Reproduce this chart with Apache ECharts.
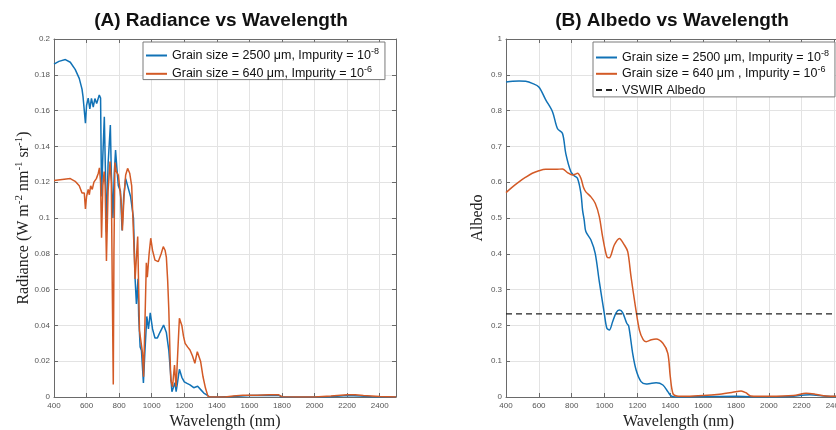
<!DOCTYPE html>
<html>
<head>
<meta charset="utf-8">
<script src="https://cdn.jsdelivr.net/npm/echarts@6/dist/echarts.min.js"></script>
</head>
<body style="margin:0;background:#fff">
<div id="chart" style="width:836px;height:430px"></div>
<script>
// panel A: radiance [wavelength nm, W m-2 nm-1 sr-1]
var radBlue = [
  [400,0.186],[430,0.1875],[470,0.1885],[500,0.187],[530,0.183],[555,0.178],[572,0.172],
  [578,0.168],[584,0.169],[593,0.153],[600,0.163],[610,0.167],[620,0.161],[630,0.1668],
  [641,0.162],[651,0.1667],[662,0.164],[678,0.1687],[686,0.167],[692,0.112],[700,0.135],
  [709,0.1566],[716,0.125],[722,0.092],[732,0.130],[746,0.152],[752,0.125],[762,0.100],
  [770,0.125],[778,0.138],[786,0.128],[795,0.118],[808,0.115],[818,0.093],[828,0.112],
  [840,0.122],[852,0.121],[870,0.112],[888,0.100],[898,0.066],[906,0.052],[912,0.051],
  [916,0.066],[920,0.045],[929,0.028],[937,0.026],[949,0.0078],[958,0.025],[970,0.045],
  [980,0.038],[991,0.047],[1005,0.038],[1020,0.033],[1035,0.033],[1050,0.036],[1073,0.0402],
  [1090,0.036],[1105,0.026],[1114,0.0151],[1124,0.003],[1132,0.005],[1143,0.008],[1150,0.003],
  [1160,0.009],[1170,0.0155],[1185,0.011],[1200,0.0085],[1217,0.0076],[1235,0.0068],
  [1258,0.0052],[1270,0.0062],[1282,0.006],[1305,0.0037],[1320,0.0022],[1340,0.001],
  [1355,0],[1400,0],[1500,0.0003],[1600,0.0008],[1700,0.001],[1780,0.0009],[1800,0],
  [2000,0],[2100,0.0002],[2200,0.0008],[2280,0.0006],[2350,0.0001],[2500,0]
];
var radOrange = [
  [400,0.121],[450,0.1215],[500,0.122],[530,0.1205],[555,0.118],[572,0.114],[580,0.113],
  [586,0.114],[593,0.105],[600,0.112],[610,0.116],[617,0.113],[625,0.118],[635,0.116],
  [645,0.120],[660,0.122],[672,0.125],[679,0.128],[686,0.120],[692,0.089],[700,0.118],
  [708,0.126],[714,0.118],[722,0.076],[732,0.115],[744,0.1315],[752,0.120],[758,0.060],
  [764,0.007],[768,0.080],[774,0.131],[782,0.126],[795,0.124],[804,0.123],[812,0.110],
  [820,0.093],[830,0.112],[840,0.124],[852,0.1277],[865,0.125],[877,0.118],[888,0.0915],
  [898,0.066],[907,0.066],[914,0.0896],[920,0.060],[925,0.037],[935,0.038],[943,0.025],
  [950,0.0113],[958,0.040],[967,0.075],[973,0.067],[984,0.080],[994,0.0887],[1005,0.082],
  [1020,0.0765],[1040,0.0756],[1058,0.080],[1071,0.084],[1082,0.082],[1090,0.078],
  [1098,0.065],[1105,0.0486],[1112,0.025],[1117,0.0095],[1128,0.0057],[1134,0.012],
  [1140,0.0179],[1146,0.010],[1150,0.0057],[1160,0.025],[1170,0.044],[1176,0.0434],
  [1185,0.040],[1195,0.034],[1205,0.030],[1220,0.028],[1235,0.0263],[1250,0.023],
  [1265,0.0188],[1272,0.022],[1280,0.0253],[1290,0.025],[1300,0.020],[1315,0.0113],
  [1330,0.005],[1345,0.0005],[1360,0],[1450,0],[1500,0.0005],[1560,0.001],[1650,0.001],
  [1720,0.0013],[1780,0.0012],[1800,0.0002],[1900,0],[2000,0],[2100,0.0005],[2200,0.0012],
  [2250,0.0013],[2300,0.0008],[2400,0.0003],[2500,0]
];
// panel B: albedo
var albBlue = [
  [400,0.880],[440,0.882],[480,0.883],[520,0.882],[560,0.876],[600,0.866],[642,0.830],
  [683,0.797],[713,0.750],[744,0.736],[764,0.680],[795,0.629],[815,0.618],[835,0.611],
  [856,0.569],[866,0.522],[876,0.494],[886,0.462],[917,0.4386],[943,0.401],[968,0.322],
  [998,0.234],[1014,0.192],[1029,0.187],[1049,0.210],[1070,0.235],[1090,0.243],[1110,0.236],
  [1135,0.206],[1147,0.198],[1171,0.122],[1192,0.0754],[1222,0.043],[1253,0.0363],
  [1280,0.038],[1314,0.0395],[1355,0.0335],[1385,0.0149],[1405,0.003],[1430,0],
  [1600,0.001],[1800,0.002],[1900,0.001],[2100,0.001],[2250,0.006],[2350,0.002],[2500,0.001]
];
var albOrange = [
  [400,0.571],[440,0.587],[479,0.601],[520,0.614],[560,0.625],[600,0.632],[642,0.636],
  [703,0.636],[744,0.637],[774,0.627],[805,0.620],[820,0.622],[835,0.625],[856,0.611],
  [872,0.585],[886,0.573],[917,0.559],[943,0.541],[968,0.504],[988,0.448],[1014,0.392],
  [1029,0.389],[1059,0.4246],[1090,0.443],[1120,0.425],[1141,0.406],[1161,0.336],
  [1188,0.252],[1212,0.187],[1235,0.160],[1253,0.1546],[1285,0.160],[1314,0.162],
  [1355,0.150],[1385,0.122],[1400,0.0568],[1416,0.010],[1440,0.003],[1500,0.002],
  [1600,0.004],[1700,0.008],[1780,0.013],[1831,0.0168],[1860,0.012],[1890,0.003],
  [2000,0.002],[2150,0.004],[2227,0.0102],[2280,0.008],[2350,0.003],[2500,0.002]
];
var vswirAlbedo = 0.232;
var wlRange = [400, 2500];

var labels = {
  radBlue: '{t|Grain size = 2500 μm, Impurity = 10}{s|-8}',
  radOrange: '{t|Grain size = 640 μm, Impurity = 10}{s|-6}',
  albBlue: '{t|Grain size = 2500 μm, Impurity = 10}{s|-8}',
  albOrange: '{t|Grain size = 640 μm , Impurity = 10}{s|-6}',
  vswir: '{t|VSWIR Albedo}{s| }'
};

var BLUE = '#1172b6', ORANGE = '#d35a26';
var sans = 'Liberation Sans, Arial, sans-serif';
var serif = 'Liberation Serif, Times New Roman, serif';
var legendRich = {
  t: { fontSize: 12.5, fontFamily: sans, color: '#111', lineHeight: 17 },
  s: { fontSize: 9, fontFamily: sans, color: '#111', verticalAlign: 'top' }
};
function plain(v) { return String(Math.round(v * 1000) / 1000); }

function xAx(grid, pos) {
  var main = pos === 'bottom';
  return {
    type: 'value', gridIndex: grid, position: pos,
    min: wlRange[0], max: wlRange[1], interval: 200,
    name: main ? 'Wavelength (nm)' : '', nameLocation: 'middle', nameGap: 17,
    nameMoveOverlap: false,
    nameTextStyle: { fontFamily: serif, fontSize: 16, color: '#222' },
    axisLine: { show: true, onZero: false, lineStyle: { color: '#6a6a6a', width: 1 } },
    axisTick: { show: true, inside: true, length: 4, lineStyle: { color: '#6a6a6a' } },
    axisLabel: { show: main, showMaxLabel: false, margin: 5, fontSize: 8, fontFamily: sans,
      color: '#555', formatter: plain },
    splitLine: { show: main, lineStyle: { color: '#e3e3e3', width: 1 } }
  };
}
function yAx(grid, pos, max, step, name, gap) {
  var main = pos === 'left';
  return {
    type: 'value', gridIndex: grid, position: pos,
    min: 0, max: max, interval: step,
    name: main ? name : '', nameLocation: 'middle', nameGap: gap, nameRotate: 90,
    nameMoveOverlap: false,
    nameTextStyle: {
      fontFamily: serif, fontSize: 16, color: '#222',
      rich: {
        t: { fontFamily: serif, fontSize: 16, color: '#222', lineHeight: 20 },
        s: { fontFamily: serif, fontSize: 11, color: '#222', verticalAlign: 'top' }
      }
    },
    axisLine: { show: true, onZero: false, lineStyle: { color: '#6a6a6a', width: 1 } },
    axisTick: { show: true, inside: true, length: 4, lineStyle: { color: '#6a6a6a' } },
    axisLabel: { show: main, margin: 4, fontSize: 8, fontFamily: sans, color: '#555',
      formatter: plain },
    splitLine: { show: main, lineStyle: { color: '#e3e3e3', width: 1 } }
  };
}
function line(id, data, color, xi, yi, opts) {
  opts = opts || {};
  return {
    type: 'line', name: id, data: data, xAxisIndex: xi, yAxisIndex: yi,
    symbol: 'none', animation: false, smooth: opts.smooth || false,
    lineStyle: { color: color, width: opts.dash ? 1.3 : 1.5, type: opts.dash ? [6, 4] : 'solid' },
    itemStyle: { color: color }
  };
}
function legendAt(names, left, pad, gap) {
  return {
    data: names, orient: 'vertical', left: left, top: 42,
    padding: pad, itemGap: gap, itemWidth: 21, itemHeight: 17,
    backgroundColor: '#fff', borderColor: '#7a7a7a', borderWidth: 1, borderRadius: 0,
    selectedMode: false,
    itemStyle: { color: 'rgba(0,0,0,0)', borderWidth: 0, opacity: 0 },
    formatter: function (n) { return labels[n]; },
    textStyle: { fontFamily: sans, fontSize: 12.5, color: '#111', rich: legendRich }
  };
}

var chart = echarts.init(document.getElementById('chart'));
chart.setOption({
  backgroundColor: '#fff',
  animation: false,
  title: [
    { text: '(A) Radiance vs Wavelength', left: 221, top: 11, textAlign: 'center', padding: 0,
      textStyle: { fontFamily: sans, fontSize: 19, fontWeight: 'bold', color: '#111' } },
    { text: '(B) Albedo vs Wavelength', left: 672, top: 11, textAlign: 'center', padding: 0,
      textStyle: { fontFamily: sans, fontSize: 19, fontWeight: 'bold', color: '#111' } }
  ],
  grid: [
    { left: 54, top: 39, width: 342, height: 358, outerBoundsMode: 'none' },
    { left: 506, top: 39, width: 345, height: 358, outerBoundsMode: 'none' }
  ],
  xAxis: [xAx(0, 'bottom'), xAx(0, 'top'), xAx(1, 'bottom'), xAx(1, 'top')],
  yAxis: [
    yAx(0, 'left', 0.2, 0.02,
      '{t|Radiance (W m}{s|-2}{t| nm}{s|-1}{t| sr}{s|-1}{t|)}', 20),
    yAx(0, 'right', 0.2, 0.02, '', 0),
    yAx(1, 'left', 1, 0.1, '{t|Albedo}', 18),
    yAx(1, 'right', 1, 0.1, '', 0)
  ],
  legend: [
    legendAt(['radBlue', 'radOrange'], 143, [5, 6, -1, 2], 3),
    legendAt(['albBlue', 'albOrange', 'vswir'], 593, [7, 6, 0, 2], 1)
  ],
  series: [
    line('radBlue', radBlue, BLUE, 0, 0),
    line('radOrange', radOrange, ORANGE, 0, 0),
    line('albBlue', albBlue, BLUE, 2, 2, { smooth: 0.3 }),
    line('albOrange', albOrange, ORANGE, 2, 2, { smooth: 0.3 }),
    line('vswir', [[wlRange[0], vswirAlbedo], [wlRange[1], vswirAlbedo]], '#222', 2, 2, { dash: true })
  ]
});
</script>
</body>
</html>
